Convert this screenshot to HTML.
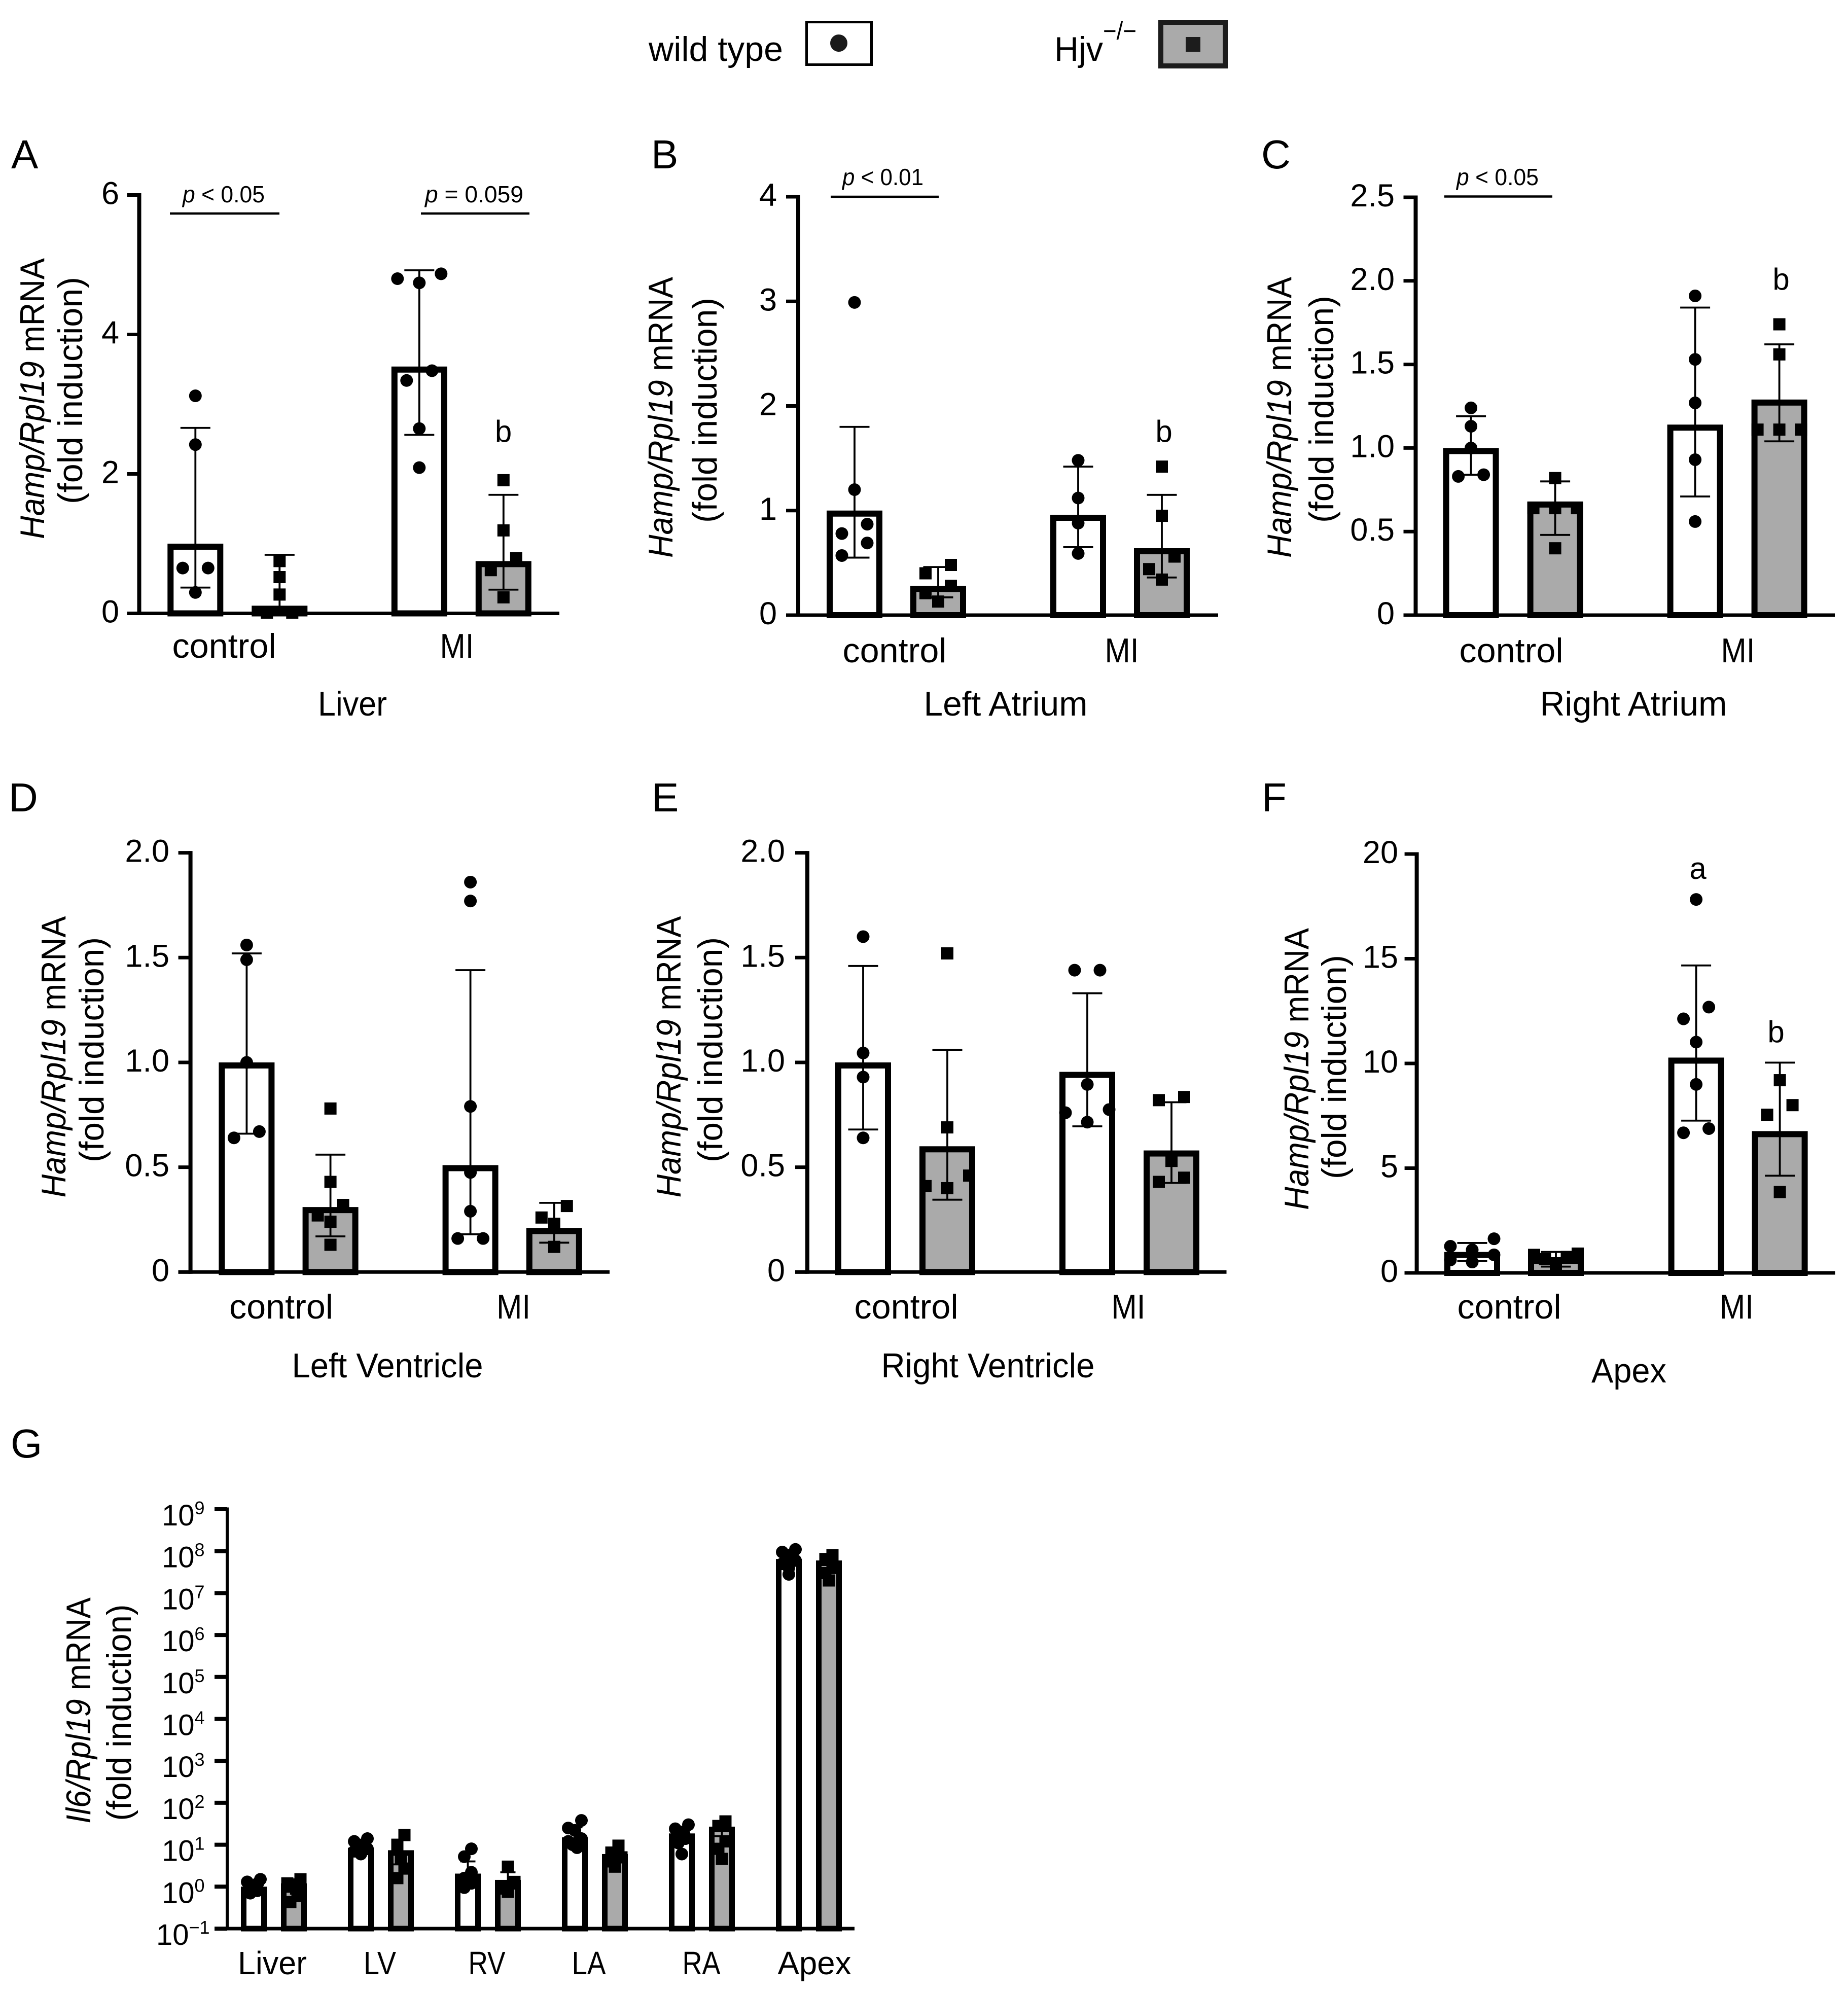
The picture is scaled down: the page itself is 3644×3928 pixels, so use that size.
<!DOCTYPE html>
<html lang="en">
<head>
<meta charset="utf-8">
<title>Hamp and Il6 mRNA fold induction</title>
<style>
html,body{margin:0;padding:0;background:#fff;}
svg{display:block;}
text{font-family:"Liberation Sans",sans-serif;fill:#000;}
.letter{font-size:80px;}
.title{font-size:68px;}
.ptext{font-size:46px;}
.sig{font-size:60px;}
</style>
</head>
<body>
<svg id="figure" xmlns="http://www.w3.org/2000/svg" width="3644" height="3928" viewBox="0 0 3644 3928">
<rect x="0" y="0" width="3644" height="3928" fill="#fff"/>

<g>
  <text class="title" x="1279" y="120" textLength="265" lengthAdjust="spacingAndGlyphs">wild type</text>
  <rect x="1590.500" y="43.500" width="128" height="84" fill="#fff" stroke="#000" stroke-width="5"/>
  <ellipse cx="1654" cy="85" rx="17" ry="17" fill="#1a1a1a"/>
  <text class="title" x="2079" y="120" textLength="96" lengthAdjust="spacingAndGlyphs">Hjv</text>
  <text x="2175" y="78" font-size="50" textLength="66" lengthAdjust="spacingAndGlyphs">&#8722;/&#8722;</text>
  <rect x="2289" y="44" width="127" height="86" fill="#aaaaaa" stroke="#1c1c1c" stroke-width="10"/>
  <rect x="2338" y="73" width="29" height="29" fill="#1c1c1c"/>
</g>

<g id="panel-a">
  <text class="letter" x="22" y="332">A</text>
  <text class="title" transform="translate(87,786) rotate(-90)" text-anchor="middle" textLength="554" lengthAdjust="spacingAndGlyphs"><tspan font-style="italic">Hamp/Rpl19</tspan> mRNA</text>
  <text class="title" transform="translate(162,770) rotate(-90)" text-anchor="middle" textLength="448" lengthAdjust="spacingAndGlyphs">(fold induction)</text>
  <text class="title" x="695" y="1411" text-anchor="middle" textLength="136" lengthAdjust="spacingAndGlyphs">Liver</text>
  <line x1="335" x2="551" y1="421" y2="421" stroke="#000" stroke-width="4.500"/>
  <text class="ptext" x="441" y="399" text-anchor="middle" textLength="162" lengthAdjust="spacingAndGlyphs"><tspan font-style="italic">p</tspan> &lt; 0.05</text>
  <line x1="830" x2="1044" y1="421" y2="421" stroke="#000" stroke-width="4.500"/>
  <text class="ptext" x="935" y="399" text-anchor="middle" textLength="194" lengthAdjust="spacingAndGlyphs"><tspan font-style="italic">p</tspan> = 0.059</text>
  <text class="sig" x="992.500" y="871" text-anchor="middle">b</text>
</g>

<g id="panel-b">
  <text class="letter" x="1284" y="332">B</text>
  <text class="title" transform="translate(1326,823) rotate(-90)" text-anchor="middle" textLength="554" lengthAdjust="spacingAndGlyphs"><tspan font-style="italic">Hamp/Rpl19</tspan> mRNA</text>
  <text class="title" transform="translate(1413,809) rotate(-90)" text-anchor="middle" textLength="444" lengthAdjust="spacingAndGlyphs">(fold induction)</text>
  <text class="title" x="1983" y="1411" text-anchor="middle" textLength="323" lengthAdjust="spacingAndGlyphs">Left Atrium</text>
  <line x1="1638" x2="1851" y1="388" y2="388" stroke="#000" stroke-width="4.500"/>
  <text class="ptext" x="1741" y="365" text-anchor="middle" textLength="160" lengthAdjust="spacingAndGlyphs"><tspan font-style="italic">p</tspan> &lt; 0.01</text>
  <text class="sig" x="2295" y="871" text-anchor="middle">b</text>
</g>

<g id="panel-c">
  <text class="letter" x="2487" y="332">C</text>
  <text class="title" transform="translate(2546,823) rotate(-90)" text-anchor="middle" textLength="554" lengthAdjust="spacingAndGlyphs"><tspan font-style="italic">Hamp/Rpl19</tspan> mRNA</text>
  <text class="title" transform="translate(2629,807) rotate(-90)" text-anchor="middle" textLength="448" lengthAdjust="spacingAndGlyphs">(fold induction)</text>
  <text class="title" x="3221" y="1411" text-anchor="middle" textLength="369" lengthAdjust="spacingAndGlyphs">Right Atrium</text>
  <line x1="2848" x2="3061" y1="387.500" y2="387.500" stroke="#000" stroke-width="4.500"/>
  <text class="ptext" x="2953" y="365" text-anchor="middle" textLength="162" lengthAdjust="spacingAndGlyphs"><tspan font-style="italic">p</tspan> &lt; 0.05</text>
  <text class="sig" x="3512" y="571" text-anchor="middle">b</text>
</g>

<g id="panel-d">
  <text class="letter" x="17" y="1600">D</text>
  <text class="title" transform="translate(129,2084) rotate(-90)" text-anchor="middle" textLength="555" lengthAdjust="spacingAndGlyphs"><tspan font-style="italic">Hamp/Rpl19</tspan> mRNA</text>
  <text class="title" transform="translate(204,2070) rotate(-90)" text-anchor="middle" textLength="444" lengthAdjust="spacingAndGlyphs">(fold induction)</text>
  <text class="title" x="764" y="2716" text-anchor="middle" textLength="377" lengthAdjust="spacingAndGlyphs">Left Ventricle</text>
</g>

<g id="panel-e">
  <text class="letter" x="1285" y="1600">E</text>
  <text class="title" transform="translate(1342,2084) rotate(-90)" text-anchor="middle" textLength="555" lengthAdjust="spacingAndGlyphs"><tspan font-style="italic">Hamp/Rpl19</tspan> mRNA</text>
  <text class="title" transform="translate(1424,2070) rotate(-90)" text-anchor="middle" textLength="444" lengthAdjust="spacingAndGlyphs">(fold induction)</text>
  <text class="title" x="1948" y="2716" text-anchor="middle" textLength="421" lengthAdjust="spacingAndGlyphs">Right Ventricle</text>
</g>

<g id="panel-f">
  <text class="letter" x="2488" y="1600">F</text>
  <text class="title" transform="translate(2580,2108) rotate(-90)" text-anchor="middle" textLength="556" lengthAdjust="spacingAndGlyphs"><tspan font-style="italic">Hamp/Rpl19</tspan> mRNA</text>
  <text class="title" transform="translate(2654,2104) rotate(-90)" text-anchor="middle" textLength="442" lengthAdjust="spacingAndGlyphs">(fold induction)</text>
  <text class="title" x="3212" y="2726" text-anchor="middle" textLength="148" lengthAdjust="spacingAndGlyphs">Apex</text>
  <text class="sig" x="3348" y="1733" text-anchor="middle">a</text>
  <text class="sig" x="3502" y="2055" text-anchor="middle">b</text>
</g>

<g id="panel-g">
  <text class="letter" x="21" y="2874">G</text>
  <text class="title" transform="translate(178,3373) rotate(-90)" text-anchor="middle" textLength="446" lengthAdjust="spacingAndGlyphs"><tspan font-style="italic">Il6/Rpl19</tspan> mRNA</text>
  <text class="title" transform="translate(258,3377) rotate(-90)" text-anchor="middle" textLength="427" lengthAdjust="spacingAndGlyphs">(fold induction)</text>
</g>
</svg>

<script>
// Shared categories
const hampCategories = ['control', 'MI'];
const il6Categories = ['Liver', 'LV', 'RV', 'LA', 'RA', 'Apex'];

// Panel A: Liver
const panelATicks = [0, 2, 4, 6];
const panelATickLabels = ['0', '2', '4', '6'];
const panelAMeans = [1.0, 0.11, 3.54, 0.75];
const panelAErrHigh = [2.66, 0.84, 4.92, 1.70];
const panelAErrLow = [0.37, 0, 2.56, 0.34];
const panelAPoints = [
  [3.12, 2.42, 0.65, 0.65, 0.30],
  [0.75, 0.52, 0.27, 0.01, 0.01],
  [4.87, 4.80, 4.74, 3.48, 3.34, 2.65, 2.09],
  [1.91, 1.19, 0.79, 0.62, 0.23]
];

// Panel B: Left Atrium
const panelBTicks = [0, 1, 2, 3, 4];
const panelBTickLabels = ['0', '1', '2', '3', '4'];
const panelBMeans = [1.0, 0.28, 0.96, 0.64];
const panelBErrHigh = [1.80, 0.46, 1.42, 1.15];
const panelBErrLow = [0.55, 0.17, 0.65, 0.36];
const panelBPoints = [
  [2.99, 1.20, 0.87, 0.78, 0.69, 0.57],
  [0.48, 0.40, 0.28, 0.21, 0.13],
  [1.48, 1.12, 0.88, 0.59],
  [1.42, 0.95, 0.56, 0.44, 0.34]
];

// Panel C: Right Atrium
const panelCTicks = [0, 0.5, 1, 1.5, 2, 2.5];
const panelCTickLabels = ['0', '0.5', '1.0', '1.5', '2.0', '2.5'];
const panelCMeans = [1.0, 0.68, 1.14, 1.29];
const panelCErrHigh = [1.19, 0.80, 1.84, 1.62];
const panelCErrLow = [0.84, 0.48, 0.71, 1.04];
const panelCPoints = [
  [1.24, 1.13, 1.0, 0.84, 0.83],
  [0.82, 0.64, 0.64, 0.64, 0.40],
  [1.91, 1.53, 1.27, 0.93, 0.56],
  [1.74, 1.56, 1.11, 1.11, 1.11]
];

// Panel D: Left Ventricle
const panelDTicks = [0, 0.5, 1, 1.5, 2];
const panelDTickLabels = ['0', '0.5', '1.0', '1.5', '2.0'];
const panelDMeans = [1.0, 0.31, 0.51, 0.21];
const panelDErrHigh = [1.52, 0.56, 1.44, 0.33];
const panelDErrLow = [0.66, 0.17, 0.18, 0.14];
const panelDPoints = [
  [1.56, 1.49, 1.0, 0.67, 0.64],
  [0.78, 0.43, 0.32, 0.27, 0.24, 0.13],
  [1.86, 1.77, 0.79, 0.475, 0.29, 0.16, 0.16],
  [0.315, 0.26, 0.23, 0.12]
];

// Panel E: Right Ventricle
const panelETicks = [0, 0.5, 1, 1.5, 2];
const panelETickLabels = ['0', '0.5', '1.0', '1.5', '2.0'];
const panelEMeans = [1.0, 0.60, 0.955, 0.58];
const panelEErrHigh = [1.46, 1.06, 1.33, 0.81];
const panelEErrLow = [0.68, 0.345, 0.695, 0.425];
const panelEPoints = [
  [1.60, 1.045, 0.93, 0.64],
  [1.52, 0.69, 0.46, 0.41, 0.40],
  [1.44, 1.44, 0.895, 0.775, 0.76, 0.715],
  [0.835, 0.82, 0.53, 0.45, 0.43]
];

// Panel F: Apex
const panelFTicks = [0, 5, 10, 15, 20];
const panelFTickLabels = ['0', '5', '10', '15', '20'];
const panelFMeans = [1.0, 0.72, 10.28, 6.77];
const panelFErrHigh = [1.43, 1.0, 14.68, 10.04];
const panelFErrLow = [0.56, 0.3, 7.27, 4.64];
const panelFPoints = [
  [1.63, 1.27, 1.10, 0.86, 0.62, 0.52],
  [0.92, 0.86, 0.76, 0.66, 0.46, 0.2],
  [17.83, 12.69, 12.13, 11.02, 9.0, 6.89, 6.69],
  [9.2, 8.01, 7.55, 3.86]
];

// Panel G: Il6 across tissues (log axis)
const panelGTicks = [0.1, 1, 10, 100, 1e3, 1e4, 1e5, 1e6, 1e7, 1e8, 1e9];
const panelGTickExponents = ['\u22121', '0', '1', '2', '3', '4', '5', '6', '7', '8', '9'];
const panelGMeans = [1.0, 1.2, 8.5, 7.4, 2.05, 1.45, 15, 6, 18.6, 27, 6.5e7, 6e7];
const panelGErrHigh = [1.3, 1.5, 11, 13, 4, 2.2, 26, 8, 27, 36, 9e7, 7e7];
const panelGErrLow = [0.8, 0.8, 6.5, 3.4, 1.1, 0.9, 9, 4, 11, 16, 4.5e7, 3e7];
const panelGPoints = [
  [1.5, 1.3, 1.2, 1.1, 1.0, 0.9, 0.8, 0.7],
  [1.5, 1.2, 1.0, 0.9, 0.6, 0.43],
  [14, 12, 10, 9, 8, 7, 6],
  [17, 10, 5, 2.7, 1.6],
  [8.0, 5.2, 2.2, 1.6, 1.2, 0.95],
  [3, 1.3, 0.9, 0.75],
  [38, 25, 22, 14, 12, 10, 8.5],
  [9.5, 6.5, 5, 4, 3],
  [30, 24, 20, 18, 14, 11, 6],
  [36, 28, 12, 8, 4.6],
  [1.1e8, 9.5e7, 8e7, 6e7, 5e7, 4e7, 2.8e7],
  [8e7, 6.5e7, 4e7, 3e7, 2e7]
];

const SVG_NS = 'http://www.w3.org/2000/svg';

function make(tag, parent, attrs) {
  const el = document.createElementNS(SVG_NS, tag);
  Object.keys(attrs).forEach(function (k) { el.setAttribute(k, attrs[k]); });
  parent.appendChild(el);
  return el;
}

function linearScale(ticks, y0, yTop) {
  const lo = ticks[0];
  const hi = ticks[ticks.length - 1];
  return function (v) { return y0 - (v - lo) / (hi - lo) * (y0 - yTop); };
}

function logScale(ticks, y0, yTop) {
  const lo = Math.log10(ticks[0]);
  const hi = Math.log10(ticks[ticks.length - 1]);
  return function (v) { return y0 - (Math.log10(v) - lo) / (hi - lo) * (y0 - yTop); };
}

// Group points whose markers would collide and spread them sideways.
function swarmOffsets(values, yScale, closeness, pairSpread, wideSpread) {
  const order = values.map(function (v, i) { return i; })
    .sort(function (a, b) { return values[b] - values[a]; });
  const offsets = values.map(function () { return 0; });
  let i = 0;
  while (i < order.length) {
    const top = yScale(values[order[i]]);
    let j = i + 1;
    while (j < order.length && yScale(values[order[j]]) - top < closeness) { j++; }
    const n = j - i;
    if (n === 2) {
      offsets[order[i]] = pairSpread;
      offsets[order[i + 1]] = -pairSpread;
    } else if (n > 2) {
      const step = 2 * wideSpread / (n - 1);
      const slots = [];
      for (let s = 0; s < n; s++) { slots.push(-wideSpread + s * step); }
      slots.sort(function (a, b) {
        return Math.abs(b) - Math.abs(a) || b - a;
      });
      for (let s = 0; s < n; s++) { offsets[order[i + s]] = slots[s]; }
    }
    i = j;
  }
  return offsets;
}

function drawPanel(p) {
  const root = document.getElementById(p.id);
  const L = p.layout;
  const yScale = p.log ? logScale(p.ticks, L.y0, L.yTop) : linearScale(p.ticks, L.y0, L.yTop);
  const barCenter = function (i) {
    const perGroup = 2;
    return L.firstBar + Math.floor(i / perGroup) * L.groupStep + (i % perGroup) * L.barStep;
  };

  // Bars
  p.means.forEach(function (mean, i) {
    const cx = barCenter(i);
    const top = yScale(mean) + L.barStroke / 2;
    const bar = make('rect', root, {
      x: cx - L.barWidth / 2 + L.barStroke / 2,
      y: top,
      width: L.barWidth - L.barStroke,
      height: Math.max(0, L.y0 - top),
      fill: i % 2 === 0 ? '#ffffff' : '#aaaaaa',
      stroke: '#000',
      'stroke-width': L.barStroke
    });
    
    
  });

  // Error bars
  p.means.forEach(function (mean, i) {
    const cx = barCenter(i);
    const yHigh = yScale(p.errHigh[i]);
    const yLow = p.errLow[i] > 0 ? yScale(p.errLow[i]) : L.y0;
    const err = make('path', root, {
      d: 'M' + (cx - L.capHalf) + ' ' + yHigh + 'H' + (cx + L.capHalf) +
         'M' + cx + ' ' + yHigh + 'V' + yLow +
         'M' + (cx - L.capHalf) + ' ' + yLow + 'H' + (cx + L.capHalf),
      fill: 'none',
      stroke: '#000',
      'stroke-width': 3.8
    });
    
    
  });

  // Individual points
  p.points.forEach(function (values, i) {
    const cx = barCenter(i);
    const offsets = swarmOffsets(values, yScale, L.closeness, L.pairSpread, L.wideSpread);
    values.forEach(function (v, k) {
      const x = cx + offsets[k];
      const y = yScale(v);
      let mark;
      if (i % 2 === 0) {
        mark = make('circle', root, { cx: x, cy: y, r: L.marker / 2, fill: '#000' });
      } else {
        mark = make('rect', root, {
          x: x - L.square / 2, y: y - L.square / 2,
          width: L.square, height: L.square, fill: '#000'
        });
      }
      
      
    });
  });

  // Axes
  const yAxis = make('line', root, {
    x1: L.axisX, x2: L.axisX, y1: L.yTop - 3.5, y2: L.y0 + 3.5,
    stroke: '#000', 'stroke-width': L.axisStroke
  });
  
  

  const xAxis = make('line', root, {
    x1: L.axisX - L.tickLen, x2: L.xEnd, y1: L.y0, y2: L.y0,
    stroke: '#000', 'stroke-width': 7
  });
  
  

  // Ticks
  p.ticks.forEach(function (t, i) {
    const y = yScale(t);
    const tick = make('line', root, {
      x1: L.axisX - L.tickLen, x2: L.axisX, y1: y, y2: y,
      stroke: '#000', 'stroke-width': L.tickStroke
    });
    
    

    if (p.log) {
      const exp = p.tickExponents[i];
      const label = make('text', root, {
        x: exp.length > 1 ? L.logLabelX - 11 : L.logLabelX, y: y + 32, 'font-size': 58
      });
      
      
      const base = make('tspan', label, {});
      base.textContent = '10';
      const sup = make('tspan', label, { 'font-size': 36, dy: -22 });
      sup.textContent = exp;
    } else {
      const label = make('text', root, {
        x: L.tickLabelX, y: y + 18, 'text-anchor': 'end', 'font-size': 63
      });
      
      
      label.textContent = p.tickLabels[i];
    }
  });

  // Category labels
  p.categories.forEach(function (c, i) {
    const label = make('text', root, {
      x: L.categoryX[i], y: L.categoryY, 'text-anchor': 'middle',
      'font-size': L.categoryFont,
      textLength: L.categoryWidth[i], lengthAdjust: 'spacingAndGlyphs'
    });
    
    
    label.textContent = c;
  });
}

function hampLayout(axisX, y0, yTop, xEnd, firstBar, barStep, groupStep, tickLabelX, categoryX, categoryY) {
  return {
    axisX: axisX, y0: y0, yTop: yTop, xEnd: xEnd, tickLen: 24,
    axisStroke: 8, tickStroke: 7,
    firstBar: firstBar, barStep: barStep, groupStep: groupStep,
    barWidth: 110, barStroke: 12, capHalf: 29.5, marker: 25, square: 24,
    closeness: 26, pairSpread: 25, wideSpread: 43,
    tickLabelX: tickLabelX, categoryX: categoryX, categoryY: categoryY,
    categoryFont: 68, categoryWidth: [205, 67]
  };
}

drawPanel({
  id: 'panel-a', categories: hampCategories, ticks: panelATicks, tickLabels: panelATickLabels,
  means: panelAMeans, errHigh: panelAErrHigh, errLow: panelAErrLow, points: panelAPoints,
  layout: hampLayout(274.5, 1209.5, 384.5, 1103, 385.3, 166, 441.5, 235, [442, 901], 1297)
});
drawPanel({
  id: 'panel-b', categories: hampCategories, ticks: panelBTicks, tickLabels: panelBTickLabels,
  means: panelBMeans, errHigh: panelBErrHigh, errLow: panelBErrLow, points: panelBPoints,
  layout: hampLayout(1574, 1213, 388, 2402, 1685, 165, 441, 1532, [1764, 2212], 1306)
});
drawPanel({
  id: 'panel-c', categories: hampCategories, ticks: panelCTicks, tickLabels: panelCTickLabels,
  means: panelCMeans, errHigh: panelCErrHigh, errLow: panelCErrLow, points: panelCPoints,
  layout: hampLayout(2791.5, 1213, 389, 3618, 2900.6, 166, 442, 2750, [2980, 3427], 1306)
});
drawPanel({
  id: 'panel-d', categories: hampCategories, ticks: panelDTicks, tickLabels: panelDTickLabels,
  means: panelDMeans, errHigh: panelDErrHigh, errLow: panelDErrLow, points: panelDPoints,
  layout: hampLayout(375.6, 2508.3, 1681.6, 1202, 486.4, 165.2, 441.2, 334, [554.5, 1012.6], 2600)
});
drawPanel({
  id: 'panel-e', categories: hampCategories, ticks: panelETicks, tickLabels: panelETickLabels,
  means: panelEMeans, errHigh: panelEErrHigh, errLow: panelEErrLow, points: panelEPoints,
  layout: hampLayout(1592, 2508.3, 1681.6, 2418.5, 1702, 166, 442, 1548, [1787, 2225], 2600)
});
drawPanel({
  id: 'panel-f', categories: hampCategories, ticks: panelFTicks, tickLabels: panelFTickLabels,
  means: panelFMeans, errHigh: panelFErrHigh, errLow: panelFErrLow, points: panelFPoints,
  layout: hampLayout(2793.6, 2510, 1684, 3618.5, 2903, 165, 441.6, 2757, [2976, 3424.5], 2600)
});
drawPanel({
  id: 'panel-g', categories: il6Categories, ticks: panelGTicks, tickExponents: panelGTickExponents, log: true,
  means: panelGMeans, errHigh: panelGErrHigh, errLow: panelGErrLow, points: panelGPoints,
  layout: {
    axisX: 448, y0: 3803, yTop: 2976, xEnd: 1685, tickLen: 25,
    axisStroke: 6, tickStroke: 8,
    firstBar: 500.5, barStep: 79, groupStep: 211,
    barWidth: 51, barStroke: 11, capHalf: 15, marker: 25, square: 24,
    closeness: 20, pairSpread: 7, wideSpread: 13,
    logLabelX: 319, categoryX: [537, 749, 960, 1161, 1383, 1606], categoryY: 3893,
    categoryFont: 64, categoryWidth: [136, 64, 73, 67, 75, 145]
  }
});
</script>
</body>
</html>
